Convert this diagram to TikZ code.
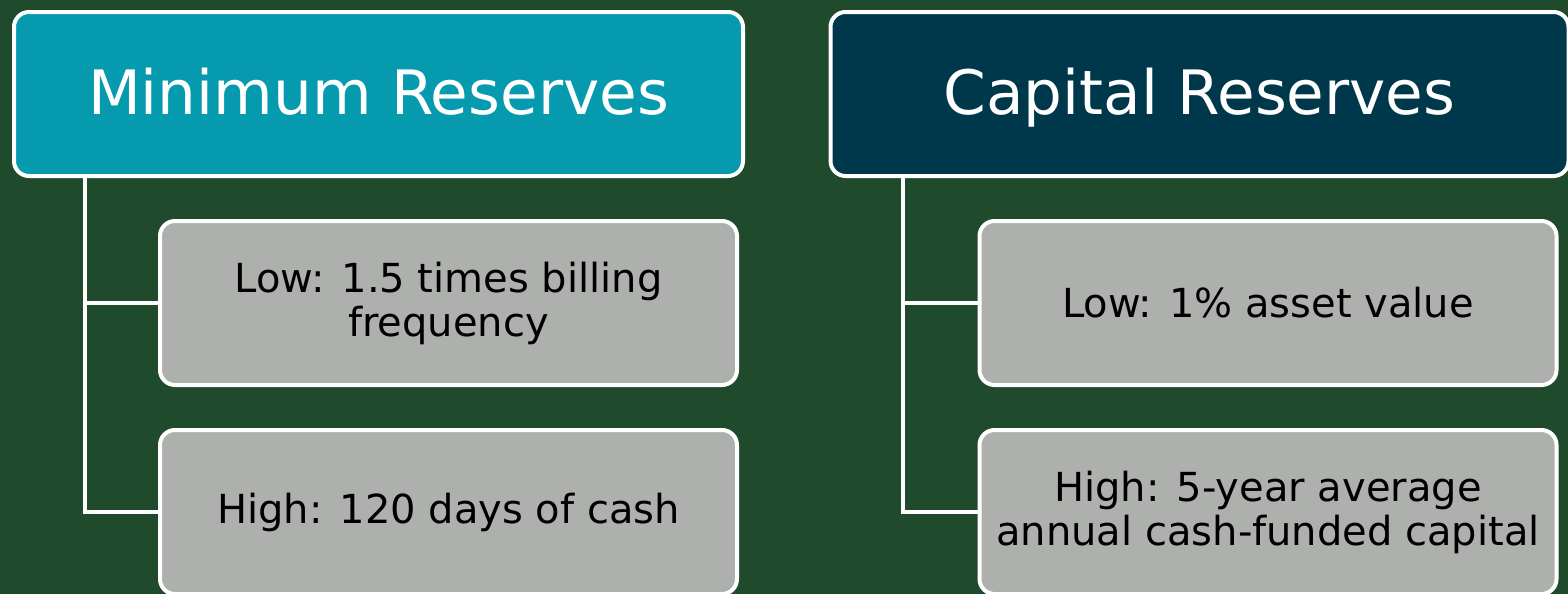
\documentclass[tikz,border=0pt]{standalone}
\usepackage{fontspec}
\setmainfont{DejaVu Sans}
\usepackage{tikz}
\definecolor{bgGreen}{HTML}{1F4A2C}
\definecolor{minTeal}{HTML}{069AAE}
\definecolor{capNavy}{HTML}{00384B}
\definecolor{levelGrey}{HTML}{ADB0AC}

\begin{document}
\begin{tikzpicture}[x=0.5pt,y=-0.5pt]
 \newcommand{\rowLow}{303}
 \newcommand{\rowHigh}{512}
	\tikzset{header/.style = {rectangle,draw=white,line width=2pt,rounded corners=7.5pt,minimum width=364.5pt,minimum height=82pt,inner sep=0pt,text height=24pt,text depth=4pt,text=white,font=\fontsize{30.6}{36}\selectfont}}
	\tikzset{level/.style = {rectangle,draw=white,line width=2pt,rounded corners=7.5pt,fill=levelGrey,minimum width=288.5pt,minimum height=82pt,inner sep=0pt,align=center,font=\fontsize{20}{22}\selectfont}}
	\tikzstyle{branch} = [draw=white,line width=2pt]
	\useasboundingbox (0,0) rectangle (1568,594);
	\clip (0,0) rectangle (1568,594);
	\fill[bgGreen] (0,0) rectangle (1568,594);
	%minimum reserves
	\node[header,fill=minTeal] (minres) at (378.5,94) {Minimum Reserves};
	\node[level] (minlow) at (448.5,\rowLow) {Low: 1.5 times billing\\frequency};
	\node[level] (minhigh) at (448.5,\rowHigh) {High: 120 days of cash};
	%capital reserves
	\node[header,fill=capNavy,minimum width=369pt] (capres) at (1199.5,94) {Capital Reserves};
	\node[level] (caplow) at (1268,\rowLow) {Low: 1\% asset value};
	\node[level] (caphigh) at (1268,\rowHigh) {High: 5-year average\\annual cash-funded capital};
	%tree lines
	\draw[branch] ([xshift=36.5pt]minres.south west) |- (minlow.west);
	\draw[branch] ([xshift=36.5pt]minres.south west) |- (minhigh.west);
	\draw[branch] ([xshift=37pt]capres.south west) |- (caplow.west);
	\draw[branch] ([xshift=37pt]capres.south west) |- (caphigh.west);
\end{tikzpicture}
\end{document}
